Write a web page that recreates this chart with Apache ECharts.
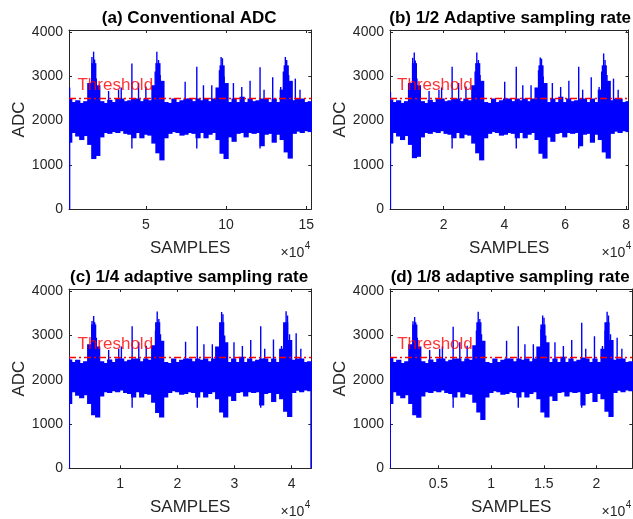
<!DOCTYPE html>
<html><head><meta charset="utf-8">
<script src="https://cdn.jsdelivr.net/npm/echarts@6/dist/echarts.min.js"></script>
<style>html,body{margin:0;padding:0;background:#fff}#c{width:633px;height:519px}</style>
</head><body><div id="c"></div>
<script>
// ---- tick values ----
const yTicks = [0, 1000, 2000, 3000, 4000];
const aTicks = [50000, 100000, 150000];
const bTicks = [20000, 40000, 60000, 80000];
const cTicks = [10000, 20000, 30000, 40000];
const dTicks = [5000, 10000, 15000, 20000];
const threshold = 2500;
const thresholdLabelY = 2790;

// ---- (a) conventional ADC : envelope of the signal (upper / lower) ----
const aX = [2500,5000,7500,10000,12500,15000,17500,20000,22500,25000,27500,30000,32500,35000,37500,40000,42500,45000,47500,50000,52500,55000,57500,60000,62500,65000,67500,70000,72500,75000,77500,80000,82500,85000,87500,90000,92500,95000,97500,100000,102500,105000,107500,110000,112500,115000,117500,120000,122500,125000,127500,130000,132500,135000,137500,140000,142500,145000,147500,150000,152500];
const aHi = [2500,2420,2460,2400,2440,2850,3300,2800,2440,2400,2470,2420,2500,2500,2440,2460,2500,2500,2440,2500,2460,2800,3300,2900,2420,2400,2500,2420,2460,2500,2500,2440,2500,2460,2500,2440,2500,2750,3250,2850,2420,2500,2420,2540,2420,2500,2440,2460,2500,2500,2420,2500,2420,2700,3250,2900,2460,2500,2500,2420,2440];
const aLo = [1500,1720,1640,1560,1650,1450,1130,1200,1620,1720,1700,1740,1720,1760,1700,1680,1600,1720,1600,1680,1660,1480,1260,1100,1600,1700,1740,1720,1660,1680,1720,1700,1600,1720,1600,1680,1720,1560,1250,1130,1620,1520,1700,1720,1620,1720,1700,1720,1420,1680,1700,1500,1680,1560,1280,1140,1700,1750,1720,1760,1740];
// narrow spikes of (a)
const aSpX = [2500,16404,17442,18065,19103,26784,33012,34673,41316,45468,50035,55848,56886,57924,58962,74532,81798,85950,91140,95915,96953,97783,98821,104634,109824,115014,121242,123733,129131,134113,135774,137020,137850,139096,143248,146154];
const aSpHi = [2750,3440,3560,3380,2950,2670,2700,2750,3290,2850,2770,3110,3560,3370,3030,2880,3220,2800,2800,3140,3440,3410,3000,2850,2760,2900,3210,2700,2980,2760,3110,3440,3370,3030,2950,2700];
const aSpLo = [0,2200,2200,2200,2200,2200,2200,2200,1370,2200,2200,2200,2200,2200,2200,2200,1370,2200,2200,2200,2200,2200,2200,2200,2200,2200,1370,2200,2200,2200,2200,2200,2200,2200,2200,2200];

// ---- (b) 1/2 adaptive ----
const bX = [2600,3900,5200,6500,7800,9100,10400,11700,13000,14300,15600,16900,18200,19500,20800,22100,23400,24700,26000,27300,28600,29900,31200,32500,33800,35100,36400,37700,39000,40300,41600,42900,44200,45500,46800,48100,49400,50700,52000,53300,54600,55900,57200,58500,59800,61100,62400,63700,65000,66300,67600,68900,70200,71500,72800,74100,75400,76700,78000,79300,80600];
const bHi = [2480,2420,2460,2400,2440,2850,3300,2800,2440,2400,2470,2420,2500,2500,2440,2460,2500,2500,2440,2500,2460,2800,3300,2900,2420,2400,2500,2420,2460,2500,2500,2440,2500,2460,2500,2440,2500,2750,3250,2850,2420,2500,2420,2540,2420,2500,2440,2460,2500,2500,2420,2500,2420,2700,3250,2900,2460,2500,2500,2420,2440];
const bLo = [1480,1720,1640,1560,1650,1450,1150,1180,1620,1720,1700,1740,1720,1760,1700,1680,1600,1720,1600,1680,1660,1480,1260,1100,1600,1700,1740,1720,1660,1680,1720,1700,1600,1720,1600,1680,1720,1560,1250,1140,1620,1520,1700,1720,1620,1720,1700,1720,1420,1680,1700,1500,1680,1560,1280,1140,1700,1750,1720,1760,1740];
const bSpX = [2550,9860,10375,10700,11250,15240,18480,19360,22820,24960,27360,30380,30930,31450,32000,40100,43900,46040,48760,51220,51780,52200,52750,55760,58490,61180,64420,65720,68540,71130,71970,72620,73080,73720,75860,77390];
const bSpHi = [2650,3420,3540,3360,2950,2670,2700,2750,3220,2850,2770,3110,3540,3370,3030,2880,3220,2800,2800,3140,3430,3400,3000,2850,2760,2900,3220,2700,2980,2760,3110,3520,3370,3030,2950,2700];
const bSpLo = [0,2200,2200,2200,2200,2200,2200,2200,1370,2200,2200,2200,2200,2200,2200,2200,1370,2200,2200,2200,2200,2200,2200,2200,2200,2200,1370,2200,2200,2200,2200,2200,2200,2200,2200,2200];

// ---- (c) 1/4 adaptive ----
const cX = [1150,1850,2550,3250,3950,4650,5350,6050,6750,7450,8150,8850,9550,10250,10950,11650,12350,13050,13750,14450,15150,15850,16550,17250,17950,18650,19350,20050,20750,21450,22150,22850,23550,24250,24950,25650,26350,27050,27750,28450,29150,29850,30550,31250,31950,32650,33350,34050,34750,35450,36150,36850,37550,38250,38950,39650,40350,41050,41750,42450,43150];
const cHi = [2460,2400,2450,2380,2420,2800,3250,2750,2420,2380,2460,2400,2480,2480,2420,2450,2480,2480,2420,2480,2450,2780,3300,2880,2400,2380,2480,2400,2450,2480,2480,2420,2480,2450,2480,2420,2480,2750,3300,2850,2400,2480,2400,2520,2400,2480,2420,2450,2480,2480,2400,2480,2400,2700,3300,2900,2450,2480,2480,2400,2420];
const cLo = [1450,1720,1640,1580,1650,1450,1200,1150,1620,1720,1700,1740,1720,1760,1700,1680,1600,1720,1600,1680,1660,1480,1250,1150,1600,1700,1740,1720,1660,1680,1720,1700,1600,1720,1600,1680,1720,1560,1260,1150,1620,1520,1700,1720,1620,1720,1700,1720,1420,1680,1700,1500,1680,1560,1280,1160,1700,1750,1720,1760,1740];
const cSpX = [1120,5080,5365,5540,5840,7990,9750,10220,12100,13260,14560,16190,16485,16770,17060,21450,23500,24660,26130,27460,27760,27990,28290,29920,31390,32850,34600,35300,36830,38240,38690,39040,39290,39640,40800,41620,43400];
const cSpHi = [2500,3330,3440,3300,2950,2670,2700,2750,3210,2850,2770,3110,3540,3370,3030,2860,3210,2800,2800,3140,3530,3480,3000,2850,2760,2900,3210,2700,2910,2760,3110,3550,3450,3030,3050,2700,2400];
const cSpLo = [0,2200,2200,2200,2200,2200,2200,2200,1370,2200,2200,2200,2200,2200,2200,2200,1370,2200,2200,2200,2200,2200,2200,2200,2200,2200,1370,2200,2200,2200,2200,2200,2200,2200,2200,2200,0];

// ---- (d) 1/8 adaptive ----
const dX = [470,850,1230,1610,1990,2370,2750,3130,3510,3890,4270,4650,5030,5410,5790,6170,6550,6930,7310,7690,8070,8450,8830,9210,9590,9970,10350,10730,11110,11490,11870,12250,12630,13010,13390,13770,14150,14530,14910,15290,15670,16050,16430,16810,17190,17570,17950,18330,18710,19090,19470,19850,20230,20610,20990,21370,21750,22130,22510,22890,23270];
const dHi = [2500,2400,2450,2380,2420,2800,3250,2750,2420,2380,2460,2400,2480,2480,2420,2450,2480,2480,2420,2480,2450,2780,3300,2880,2400,2380,2480,2400,2450,2480,2480,2420,2480,2450,2480,2420,2480,2750,3250,2850,2400,2480,2400,2520,2400,2480,2420,2450,2500,2480,2400,2480,2400,2700,3300,2900,2450,2480,2480,2400,2420];
const dLo = [1450,1720,1640,1580,1650,1450,1200,1140,1620,1720,1700,1740,1720,1760,1700,1680,1600,1720,1600,1680,1660,1480,1260,1090,1600,1700,1740,1720,1660,1680,1720,1700,1600,1720,1600,1680,1720,1560,1260,1150,1620,1520,1700,1720,1620,1720,1700,1720,1420,1680,1700,1500,1680,1560,1280,1160,1700,1750,1720,1760,1740];
const dSpX = [430,2590,2746,2840,3000,4170,5120,5380,6400,7030,7730,8610,8777,8930,9090,11470,12580,13210,14010,14730,14893,15020,15180,16060,16860,17650,18600,18980,19810,20570,20820,21009,21140,21330,21960,22410];
const dSpHi = [2600,3320,3420,3300,2950,2670,2700,2750,3200,2850,2770,3110,3535,3370,3030,2880,3210,2800,2800,3140,3450,3400,3000,2850,2760,2900,3290,2700,2980,2760,3110,3535,3450,3030,2950,2700];
const dSpLo = [0,2200,2200,2200,2200,2200,2200,2200,1370,2200,2200,2200,2200,2200,2200,2200,1370,2200,2200,2200,2200,2200,2200,2200,2200,2200,1370,2200,2200,2200,2200,2200,2200,1170,2200,2200];

const FONT = '"Liberation Sans", Arial, Helvetica, sans-serif';
const AX = '#262626';
const BLUE = '#0000ff';

const panels = [
  {title:'(a) Conventional ADC', xs:aX, hi:aHi, lo:aLo, spX:aSpX, spHi:aSpHi, spLo:aSpLo, ticks:aTicks, xmin:2100, xmax:153200, step:2500, left:69, top:30, h:179, textX:7080},
  {title:'(b) 1/2 Adaptive sampling rate', xs:bX, hi:bHi, lo:bLo, spX:bSpX, spHi:bSpHi, spLo:bSpLo, ticks:bTicks, xmin:2400, xmax:80800, step:1300, left:390, top:30, h:179, textX:4570},
  {title:'(c) 1/4 adaptive sampling rate', xs:cX, hi:cHi, lo:cLo, spX:cSpX, spHi:cSpHi, spLo:cSpLo, ticks:cTicks, xmin:1050, xmax:43450, step:700, left:69, top:289, h:179.3, textX:2450},
  {title:'(d) 1/8 adaptive sampling rate', xs:dX, hi:dHi, lo:dLo, spX:dSpX, spHi:dSpHi, spLo:dSpLo, ticks:dTicks, xmin:406, xmax:23400, step:380, left:390, top:289, h:179.3, textX:1043}
];
const W = 242.3;

const grid = [], xAxis = [], yAxis = [], series = [], title = [], graphic = [];
panels.forEach((p, i) => {
  grid.push({left:p.left, top:p.top, width:W, height:p.h, containLabel:false});
  const lineStyle = {color:AX, width:1};
  xAxis.push({gridIndex:i, type:'value', min:p.xmin, max:p.xmax, position:'bottom', z:1,
    axisLine:{show:true, onZero:false, lineStyle},
    axisTick:{show:true, inside:true, length:3, customValues:p.ticks, lineStyle},
    axisLabel:{show:true, customValues:p.ticks, fontSize:14, color:AX, fontFamily:FONT, margin:9,
      formatter:v => String(Math.round(v/1000)/10)},
    splitLine:{show:false},
    name:'SAMPLES', nameLocation:'middle', nameGap:31,
    nameTextStyle:{fontSize:17, color:AX, fontFamily:FONT}});
  xAxis.push({gridIndex:i, type:'value', min:p.xmin, max:p.xmax, position:'top', z:1,
    axisLine:{show:true, onZero:false, lineStyle},
    axisTick:{show:true, inside:true, length:3, customValues:p.ticks, lineStyle},
    axisLabel:{show:false}, splitLine:{show:false}});
  yAxis.push({gridIndex:i, type:'value', min:0, max:4050, position:'left', z:1,
    axisLine:{show:true, onZero:false, lineStyle},
    axisTick:{show:true, inside:true, length:3, customValues:yTicks, lineStyle},
    axisLabel:{show:true, customValues:yTicks, fontSize:14, color:AX, fontFamily:FONT, margin:6,
      formatter:v => String(v)},
    splitLine:{show:false},
    name:'ADC', nameLocation:'middle', nameGap:41,
    nameTextStyle:{fontSize:17, color:AX, fontFamily:FONT}});
  yAxis.push({gridIndex:i, type:'value', min:0, max:4050, position:'right', z:1,
    axisLine:{show:true, onZero:false, lineStyle},
    axisTick:{show:true, inside:true, length:3, customValues:yTicks, lineStyle},
    axisLabel:{show:false}, splitLine:{show:false}});

  const xi = 2*i, yi = 2*i;
  series.push({type:'custom', xAxisIndex:xi, yAxisIndex:yi, clip:true, silent:true, z:2,
    data:p.xs.map((x,k)=>[x, p.lo[k], p.hi[k]]),
    renderItem:(params, api) => {
      const x = api.value(0);
      const a = api.coord([x - p.step/2, api.value(2)]);
      const b = api.coord([x + p.step/2, api.value(1)]);
      return {type:'rect', shape:{x:a[0]-0.5, y:a[1], width:b[0]-a[0]+1.2, height:b[1]-a[1]}, style:{fill:BLUE}};
    }});
  series.push({type:'custom', xAxisIndex:xi, yAxisIndex:yi, clip:true, silent:true, z:3,
    data:p.spX.map((x,k)=>[x, p.spLo[k], p.spHi[k]]),
    renderItem:(params, api) => {
      const a = api.coord([api.value(0), api.value(2)]);
      const b = api.coord([api.value(0), api.value(1)]);
      return {type:'rect', shape:{x:a[0]-0.7, y:a[1], width:1.4, height:b[1]-a[1]}, style:{fill:BLUE}};
    }});
  series.push({type:'line', xAxisIndex:xi, yAxisIndex:yi, silent:true, z:4, symbol:'none',
    data:[[p.xmin, threshold],[p.xmax, threshold]],
    lineStyle:{color:'#ff0000', width:1.5, type:[7,3,2,3]}});
  series.push({type:'scatter', xAxisIndex:xi, yAxisIndex:yi, silent:true, z:5, symbolSize:1,
    itemStyle:{color:'rgba(0,0,0,0)'},
    data:[[p.textX, thresholdLabelY]],
    label:{show:true, position:'right', distance:0, formatter:'Threshold', color:'#ff0000', fontSize:17, fontFamily:FONT}});

  title.push({text:p.title, left:p.left + W/2 - 6, top:p.top - 25, textAlign:'center',
    textStyle:{fontSize:17, fontWeight:'bold', color:'#000', fontFamily:FONT}});
  const bottom = p.top + p.h;
  const right = p.left + W;
  graphic.push({type:'text', x:right - 7, y:bottom + 44, style:{text:'×10', font:'14px ' + FONT, fill:AX, textAlign:'right', textVerticalAlign:'middle'}});
  graphic.push({type:'text', x:right - 6.5, y:bottom + 37, style:{text:'4', font:'10px ' + FONT, fill:AX, textAlign:'left', textVerticalAlign:'middle'}});
});

const chart = echarts.init(document.getElementById('c'), null, {renderer:'canvas'});
chart.setOption({animation:false, backgroundColor:'#fff', title, grid, xAxis, yAxis, series, graphic});
</script>
</body></html>
